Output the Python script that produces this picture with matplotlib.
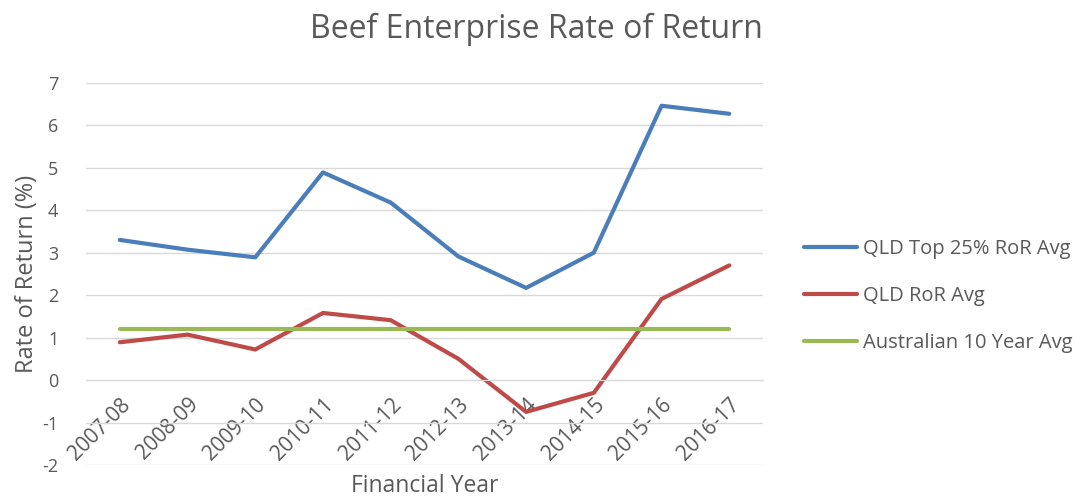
import matplotlib
matplotlib.use("Agg")
import matplotlib.pyplot as plt

years = ["2007-08", "2008-09", "2009-10", "2010-11", "2011-12",
         "2012-13", "2013-14", "2014-15", "2015-16", "2016-17"]
top25 = [3.3, 3.07, 2.89, 4.89, 4.18, 2.91, 2.17, 3.0, 6.46, 6.27]
qld_avg = [0.89, 1.07, 0.72, 1.58, 1.41, 0.5, -0.75, -0.3, 1.91, 2.7]
aus10 = [1.2] * 10
yticks = [-2, -1, 0, 1, 2, 3, 4, 5, 6, 7]

plt.rcParams['font.family'] = ['Open Sans', 'DejaVu Sans']
txt = '#595959'

fig = plt.figure(figsize=(10.8, 4.97), dpi=100)
ax = fig.add_axes([0.0796, 0.0644, 0.627, 0.769])

x = list(range(len(years)))
ax.plot(x, top25, color='#4A7EBB', lw=3, label='QLD Top 25% RoR Avg', solid_capstyle='round')
ax.plot(x, qld_avg, color='#BE4B48', lw=3, label='QLD RoR Avg', solid_capstyle='round')
ax.plot(x, aus10, color='#98B954', lw=3, label='Australian 10 Year Avg', solid_capstyle='round')

ax.set_xlim(-0.5, len(years) - 0.5)
ax.set_ylim(-2, 7)
ax.set_yticks(yticks)
ax.set_yticklabels([str(v) for v in yticks])
ax.yaxis.grid(True, color='#D9D9D9', lw=1)
ax.set_axisbelow(True)
for s in ['top', 'right', 'left']:
    ax.spines[s].set_visible(False)
ax.spines['bottom'].set_position(('data', 0))
ax.spines['bottom'].set_color('#D9D9D9')
ax.tick_params(axis='y', length=0, labelsize=13, colors=txt, pad=20)
ax.tick_params(axis='x', length=0, labelsize=15, colors=txt, pad=10)
ax.set_xticks(x)
ax.set_xticklabels(years, rotation=45, ha='right', rotation_mode='anchor')

ax.set_ylabel('Rate of Return (%)', fontsize=17, color=txt, labelpad=2)
fig.text(0.393, 0.022, 'Financial Year', fontsize=16.5, color=txt, ha='center', va='center')
fig.text(0.497, 0.94, 'Beef Enterprise Rate of Return', fontsize=23, color=txt, ha='center', va='center')

leg = fig.legend(loc='center left', bbox_to_anchor=(0.728, 0.404), frameon=False,
                 fontsize=14.5, handlelength=2.6, handletextpad=0.3, labelspacing=1.35)
for t in leg.get_texts():
    t.set_color(txt)

fig.savefig('out.png', dpi=100)
